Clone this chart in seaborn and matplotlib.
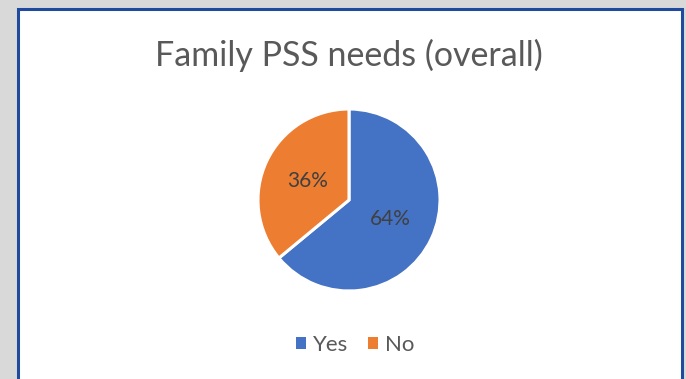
import matplotlib
matplotlib.use("Agg")
import matplotlib.pyplot as plt
from matplotlib.patches import Rectangle
import seaborn as sns

categories = ["Yes", "No"]
shares = [64, 36]
colors = ["#4472C4", "#ED7D31"]
title = "Family PSS needs (overall)"

sns.set_theme(style="white")
plt.rcParams["font.family"] = ["Lato", "DejaVu Sans"]

W, H = 686, 379
fig = plt.figure(figsize=(W / 100, H / 100), dpi=100)
fig.patch.set_facecolor("#D9D9D9")

# white chart area with a dark blue frame
frame = Rectangle((17.5 / W, -0.05), (682 - 17.5) / W, (H - 9) / H + 0.05,
                  transform=fig.transFigure, facecolor="white",
                  edgecolor="#1F4A9E", linewidth=2.2, zorder=-1)
fig.patches.append(frame)

fig.text(349 / W, 1 - 55 / H, title, ha="center", va="center",
         fontsize=24.5, color="#595959")

cx, cy, r = 349, 200, 91
ax = fig.add_axes([(cx - r) / W, (H - cy - r) / H, 2 * r / W, 2 * r / H])
wedges, texts, autotexts = ax.pie(
    shares, colors=colors, startangle=90, counterclock=False, radius=1,
    autopct=lambda p: f"{p:.0f}%", pctdistance=0.5,
    wedgeprops=dict(edgecolor="white", linewidth=2.2),
    textprops=dict(color="#404040", fontsize=15))
ax.set_xlim(-1, 1)
ax.set_ylim(-1, 1)
ax.axis("off")

handles = [Rectangle((0, 0), 1, 1, facecolor=c, edgecolor="none") for c in colors]
fig.legend(handles, categories, loc="center", bbox_to_anchor=(355 / W, 1 - 345 / H),
           ncol=2, frameon=False, fontsize=16, handlelength=0.45, handleheight=0.45,
           handletextpad=0.3, columnspacing=0.9, labelcolor="#595959")

fig.savefig("out.png", dpi=100, facecolor=fig.get_facecolor())
